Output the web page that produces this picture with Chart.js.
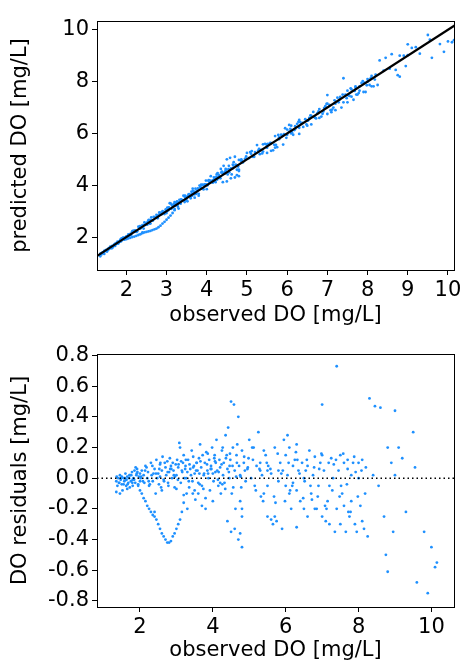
<!DOCTYPE html>
<html><head><meta charset="utf-8">
<script src="https://cdn.jsdelivr.net/npm/chart.js@4"></script>
<style>body{margin:0;background:#fff}canvas{display:block}</style>
</head><body>
<div style="width:474px;height:330px"><canvas id="c1"></canvas></div>
<div style="width:474px;height:335px"><canvas id="c2"></canvas></div>
<script>
const observedDO=[1.35,1.36,1.38,1.4,1.42,1.45,1.47,1.5,1.5,1.52,1.55,1.57,1.6,1.62,1.63,1.65,1.68,1.7,1.72,1.73,1.75,1.78,1.8,1.82,1.85,1.87,1.9,1.92,1.95,1.97,2.0,2.0,1.35,1.45,1.55,1.65,1.8,1.88,
1.95,2.0,2.05,2.1,2.15,2.2,2.25,2.3,2.35,2.4,2.4,2.45,2.5,2.55,2.6,2.65,2.7,2.75,2.8,2.85,2.9,2.95,3.0,3.05,3.1,3.15,3.2,
2.05,2.1,2.12,2.15,2.2,2.22,2.25,2.3,2.32,2.35,2.4,2.45,2.47,2.5,2.52,2.55,2.6,2.62,2.65,2.7,2.72,2.75,2.78,2.8,2.82,2.85,2.88,2.9,2.92,2.95,3.0,3.02,3.05,3.08,3.1,3.12,3.15,3.18,3.2,3.22,3.25,3.28,3.3,3.32,3.35,3.38,3.4,3.42,3.45,3.48,3.5,3.52,3.55,3.58,3.6,3.62,3.65,3.68,3.7,3.72,3.75,3.78,3.8,3.82,3.85,3.88,3.9,3.92,3.95,3.98,4.0,4.02,4.05,4.08,4.1,4.12,4.15,4.18,4.2,4.22,4.25,4.28,4.3,4.32,4.35,4.38,4.4,4.42,4.45,4.48,4.5,4.52,4.55,4.58,4.6,4.62,4.65,4.7,4.72,4.75,4.8,4.85,4.9,4.95,5.0,5.05,5.1,5.15,5.2,5.25,5.3,5.35,5.4,5.45,5.5,
3.3,3.5,3.6,3.7,3.8,4.0,4.2,4.4,4.5,4.6,4.7,4.75,4.8,4.75,4.8,4.8,3.0,3.2,2.6,2.55,
5.5,5.6,5.65,5.7,5.75,5.8,5.85,5.9,5.95,6.0,6.0,6.05,6.1,6.1,6.15,6.2,6.2,6.25,6.3,6.3,6.35,6.4,6.45,6.5,6.5,6.55,6.6,6.65,6.7,6.75,6.8,6.85,6.9,6.95,7.0,7.0,7.05,7.1,7.15,7.2,7.25,7.3,7.35,7.4,7.4,7.45,7.5,7.5,7.55,7.6,7.65,7.7,7.75,7.8,7.8,7.85,7.9,7.95,8.0,8.0,8.05,8.1,8.15,8.2,8.25,8.3,8.4,8.45,8.55,8.6,8.7,8.75,8.8,8.8,8.9,8.95,9.0,9.1,9.2,9.3,9.0,9.5,9.55,9.6,9.8,9.9,10.0,10.1,10.15,5.6,5.7,6.05,6.3,5.4,5.5,6.8,7.2,7.6,5.3,5.8,6.6,7.0,7.7,8.1,
1.43,1.58,1.66,1.76,1.84,1.93,2.03,2.08,2.18,2.27,2.37,2.43,2.53,2.58,2.68,2.77,2.83,2.93,2.98,3.04,3.13,3.24,3.27,3.36,3.44,3.46,3.54,3.63,3.66,3.74,3.84,3.87,3.94,4.04,4.07,4.14,4.24,4.27,4.34,4.44,4.47,4.54,4.64,4.67,4.78,4.88,4.98,5.08,5.18,5.28,5.38,5.48,5.58,5.68,5.78,5.88,5.98,6.08,6.18,6.28,6.38,6.48,6.58,6.68,6.78,6.88,6.98,7.08,7.18,7.28,7.38,7.48,7.58,7.68,7.78,7.88,7.98,8.08,8.18,
1.48,1.61,1.71,1.79,1.91,2.02,2.14,2.24,2.34,2.44,2.56,2.66,2.76,2.86,2.96,3.06,3.16,3.26,3.34,3.46,3.56,3.64,3.76,3.86,3.96,4.06,4.16,4.26,4.36,4.46,4.56,4.66,4.76,4.86,4.96,5.12,5.32,5.52,5.72,5.92,6.12,6.32,6.52,6.72,6.92,7.12,7.32,7.52,7.72,7.92];
const residualsDO=[-0.02,0.01,-0.05,0.0,-0.03,0.02,-0.01,-0.04,0.01,-0.08,0.0,-0.02,0.03,-0.05,-0.01,0.01,-0.03,0.0,-0.06,0.02,-0.02,0.04,-0.01,0.0,0.05,-0.03,0.02,0.06,-0.04,0.01,0.03,-0.02,-0.09,-0.1,-0.04,-0.07,-0.05,0.07,
-0.05,-0.08,-0.1,-0.13,-0.15,-0.18,-0.2,-0.22,-0.24,-0.22,-0.25,-0.27,-0.3,-0.33,-0.36,-0.38,-0.4,-0.42,-0.42,-0.41,-0.38,-0.36,-0.33,-0.3,-0.27,-0.22,-0.16,
0.05,0.02,-0.03,0.08,0.0,0.04,-0.05,0.1,0.02,-0.02,0.06,0.12,0.0,0.03,-0.04,0.09,0.05,0.14,-0.01,0.07,0.02,0.11,-0.05,0.04,0.13,0.08,0.0,0.1,0.05,-0.06,0.02,0.12,0.07,0.23,0.2,-0.03,0.05,0.1,0.15,0.0,0.08,-0.1,0.04,0.12,-0.06,0.06,0.02,0.18,-0.1,0.08,0.03,-0.14,0.1,0.05,-0.03,0.13,0.22,0.07,-0.05,0.15,0.02,0.1,-0.13,0.17,0.05,0.0,0.12,-0.08,0.08,0.2,0.03,-0.02,0.15,0.1,0.25,0.05,-0.05,0.12,0.07,-0.1,0.18,0.02,0.1,-0.03,0.28,0.15,0.06,0.33,0.0,0.12,0.5,-0.1,0.2,0.48,0.05,-0.2,0.15,0.4,0.08,0.02,0.18,0.1,-0.02,0.06,0.25,0.0,0.12,-0.05,0.08,0.3,0.1,0.02,-0.1,0.15,0.05,
-0.2,-0.08,-0.1,-0.18,-0.2,-0.15,-0.03,-0.28,-0.35,-0.33,-0.4,-0.36,-0.45,-0.15,-0.25,-0.2,-0.07,-0.11,-0.08,0.01,
-0.25,-0.27,-0.3,-0.25,-0.28,0.05,0.1,-0.33,0.25,0.15,-0.05,0.02,-0.1,0.2,-0.2,0.08,-0.03,0.12,-0.08,-0.32,0.05,-0.15,0.1,0.0,-0.2,0.05,-0.25,0.18,-0.1,0.02,0.14,-0.2,-0.05,0.1,0.48,-0.25,0.05,-0.28,-0.15,-0.05,0.13,0.0,-0.35,0.73,-0.2,0.05,0.15,-0.3,-0.1,0.1,-0.35,0.12,-0.25,0.02,-0.15,0.1,-0.3,-0.35,0.0,0.1,-0.18,-0.28,-0.33,0.07,-0.38,0.52,0.02,0.47,-0.05,0.46,-0.25,-0.5,0.2,-0.61,0.1,-0.35,0.02,0.2,0.13,-0.22,0.44,0.3,0.07,-0.68,-0.35,-0.75,-0.45,-0.58,-0.55,0.03,0.2,0.28,0.22,0.18,-0.05,-0.2,-0.3,-0.18,0.05,-0.02,0.08,0.15,0.06,0.12,
-0.03,0.0,-0.04,0.02,-0.01,0.04,0.01,-0.02,0.07,-0.04,0.03,-0.1,0.06,-0.06,0.1,-0.03,0.06,0.02,0.09,-0.01,0.11,0.06,0.0,0.09,-0.02,0.14,0.05,0.03,0.11,-0.07,0.09,0.03,0.06,0.13,0.04,-0.01,0.09,0.2,-0.07,0.04,0.16,0.08,0.01,0.22,-0.06,0.05,0.13,0.2,-0.08,0.06,-0.15,0.1,0.06,-0.12,0.16,0.03,-0.15,0.1,-0.05,0.17,0.03,-0.13,0.12,-0.05,0.07,-0.12,0.16,-0.18,0.1,-0.08,0.12,-0.12,0.16,-0.04,-0.22,0.14,-0.12,0.05,-0.1,
0.0,-0.01,0.02,-0.03,0.03,0.0,0.05,-0.02,0.08,0.03,0.1,-0.02,0.04,0.06,0.01,0.09,0.04,0.12,-0.02,0.07,0.1,-0.04,0.03,0.16,0.06,0.11,0.04,-0.04,0.13,0.08,-0.06,0.1,0.01,0.14,0.07,0.2,-0.12,0.08,-0.16,0.05,-0.08,0.12,-0.02,-0.14,0.06,-0.2,0.09,-0.05,-0.22,0.04];
const topXTicks=[2,3,4,5,6,7,8,9,10];
const topYTicks=[2,4,6,8,10];
const botXTicks=[2,4,6,8,10];
const botYTicks=[-0.8,-0.6,-0.4,-0.2,0.0,0.2,0.4,0.6,0.8];

const F={family:'DejaVu Sans',size:21};
const blue='#1e90ff';
function axis(ticks,min,max,title,isY,size,fmt){
  return {type:'linear',min,max,
    border:{color:'#000',width:1},
    grid:{drawOnChartArea:false,color:'#000',tickLength:5,drawTicks:true},
    ticks:{color:'#000',font:F,padding:3,autoSkip:false,maxRotation:0,callback:v=>fmt?v.toFixed(1):v},
    title:{display:true,text:title,color:'#000',font:F,padding:{top:0,bottom:2}},
    afterBuildTicks:s=>{s.ticks=ticks.map(v=>({value:v}));},
    afterFit:s=>{if(isY)s.width=size;else s.height=size;}
  };
}
function mirror(min,max){return {type:'linear',min,max,display:true,border:{color:'#000'},grid:{display:false},ticks:{display:false}};}
const scatterPts=observedDO.map((x,i)=>({x,y:+(x+residualsDO[i]).toFixed(2)}));
const resPts=observedDO.map((x,i)=>({x,y:residualsDO[i]}));
const common={responsive:true,maintainAspectRatio:false,animation:false,plugins:{legend:{display:false},tooltip:{enabled:false}}};
new Chart(document.getElementById('c1'),{type:'scatter',
  data:{datasets:[
    {data:scatterPts,backgroundColor:blue,borderWidth:0,pointRadius:1.4,order:2},
    {type:'line',data:[{x:1.2,y:1.2},{x:10.4,y:10.4}],borderColor:'#000',borderWidth:2.2,pointRadius:0,order:1}
  ]},
  options:{...common,layout:{padding:{top:13,right:12,left:8,bottom:0}},
    scales:{x:axis(topXTicks,1.27,10.15,'observed DO [mg/L]',false,60),
      y:axis(topYTicks,0.73,10.34,'predicted DO [mg/L]',true,89),
      x2:{...mirror(1.27,10.15),position:'top',axis:'x'},y2:{...mirror(0.73,10.34),position:'right',axis:'y'}}}
});
new Chart(document.getElementById('c2'),{type:'scatter',
  data:{datasets:[
    {data:resPts,backgroundColor:blue,borderWidth:0,pointRadius:1.4,order:2},
    {type:'line',data:[{x:0.82,y:0},{x:10.62,y:0}],borderColor:'#000',borderWidth:1.5,borderDash:[1.5,3],pointRadius:0,order:1}
  ]},
  options:{...common,layout:{padding:{top:16,right:12,left:8,bottom:0}},
    scales:{x:axis(botXTicks,0.82,10.62,'observed DO [mg/L]',false,58),
      y:axis(botYTicks,-0.84,0.81,'DO residuals [mg/L]',true,89,true),
      x2:{...mirror(0.82,10.62),position:'top',axis:'x'},y2:{...mirror(-0.84,0.81),position:'right',axis:'y'}}}
});
</script></body></html>
